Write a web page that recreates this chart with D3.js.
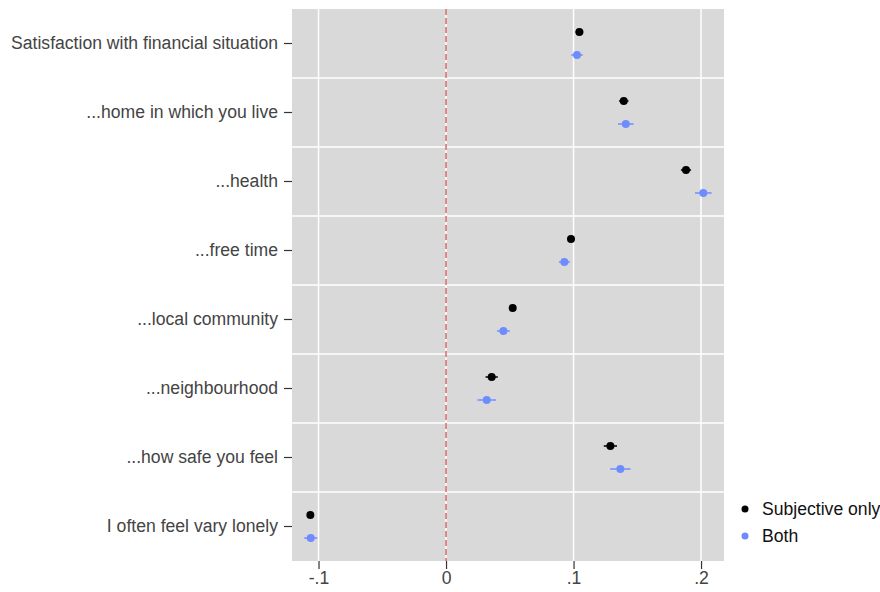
<!DOCTYPE html>
<html>
<head>
<meta charset="utf-8">
<script src="https://cdn.jsdelivr.net/npm/d3@7"></script>
<style>
  html, body { margin: 0; padding: 0; background: #fff; }
  svg { display: block; font-family: "Liberation Sans", Arial, sans-serif; }
</style>
</head>
<body>
<svg id="chart" width="880" height="592"></svg>
<script>
// Outcome labels, top to bottom
const categories = [
  "Satisfaction with financial situation",
  "...home in which you live",
  "...health",
  "...free time",
  "...local community",
  "...neighbourhood",
  "...how safe you feel",
  "I often feel vary lonely"
];

// Coefficient estimates and half-widths of the confidence intervals
const subjectiveEst = [0.1046, 0.1394, 0.1882, 0.0980, 0.0523, 0.0358, 0.1289, -0.1064];
const subjectiveCI  = [0.0030, 0.0037, 0.0040, 0.0025, 0.0025, 0.0048, 0.0052, 0.0025];
const bothEst       = [0.1027, 0.1410, 0.2018, 0.0928, 0.0450, 0.0319, 0.1367, -0.1061];
const bothCI        = [0.0045, 0.0061, 0.0065, 0.0043, 0.0050, 0.0072, 0.0080, 0.0051];

const seriesNames  = ["Subjective only", "Both"];
const seriesColors = ["#000000", "#6f8cff"];

const xTicks = [-0.1, 0, 0.1, 0.2];
const xTickLabels = ["-.1", "0", ".1", ".2"];

const svg = d3.select("#chart");
const panel = { left: 292, right: 724, top: 9, bottom: 561 };
const fontSize = "17.6px";

const x = d3.scaleLinear()
  .domain([-0.1208, 0.218])
  .range([panel.left, panel.right]);

const y = d3.scaleBand()
  .domain(categories)
  .range([panel.top, panel.bottom])
  .padding(0);

// Panel background
svg.append("rect")
  .attr("x", panel.left).attr("y", panel.top)
  .attr("width", panel.right - panel.left)
  .attr("height", panel.bottom - panel.top)
  .attr("fill", "#d9d9d9");

// Vertical grid lines at the x ticks
svg.append("g").selectAll("line")
  .data(xTicks)
  .join("line")
  .attr("x1", d => x(d)).attr("x2", d => x(d))
  .attr("y1", panel.top).attr("y2", panel.bottom)
  .attr("stroke", "#fff").attr("stroke-width", 1.5);

// Horizontal separators between outcomes
svg.append("g").selectAll("line")
  .data(categories.slice(1))
  .join("line")
  .attr("x1", panel.left).attr("x2", panel.right)
  .attr("y1", d => y(d)).attr("y2", d => y(d))
  .attr("stroke", "#fff").attr("stroke-width", 1.5);

// Reference line at zero
svg.append("line")
  .attr("x1", x(0)).attr("x2", x(0))
  .attr("y1", panel.top).attr("y2", panel.bottom)
  .attr("stroke", "#d65a55").attr("stroke-width", 1.4)
  .attr("stroke-dasharray", "6,3");

// Estimates with intervals
const offsets = [-11.5, 11.5];
const series = [
  { est: subjectiveEst, ci: subjectiveCI },
  { est: bothEst, ci: bothCI }
];
series.forEach((s, si) => {
  const rows = categories.map((c, i) => ({ c, v: s.est[i], e: s.ci[i] }));
  const g = svg.append("g");
  g.selectAll("line")
    .data(rows)
    .join("line")
    .attr("x1", d => x(d.v - d.e)).attr("x2", d => x(d.v + d.e))
    .attr("y1", d => y(d.c) + y.bandwidth() / 2 + offsets[si])
    .attr("y2", d => y(d.c) + y.bandwidth() / 2 + offsets[si])
    .attr("stroke", seriesColors[si]).attr("stroke-width", 1.5);
  g.selectAll("circle")
    .data(rows)
    .join("circle")
    .attr("cx", d => x(d.v))
    .attr("cy", d => y(d.c) + y.bandwidth() / 2 + offsets[si])
    .attr("r", 4)
    .attr("fill", seriesColors[si]);
});

// Y axis
const yAxis = svg.append("g")
  .attr("transform", `translate(${panel.left},0)`)
  .call(d3.axisLeft(y).tickSize(8).tickPadding(6));
yAxis.select(".domain").remove();
yAxis.selectAll(".tick line").attr("stroke", "#333").attr("stroke-width", 1.2);
yAxis.selectAll(".tick text")
  .attr("fill", "#444")
  .style("font-size", fontSize)
  .style("font-family", "'Liberation Sans', Arial, sans-serif");

// X axis
const xAxis = svg.append("g")
  .attr("transform", `translate(0,${panel.bottom})`)
  .call(d3.axisBottom(x).tickValues(xTicks)
    .tickFormat((d, i) => xTickLabels[i]).tickSize(8).tickPadding(3));
xAxis.select(".domain").remove();
xAxis.selectAll(".tick line").attr("stroke", "#333").attr("stroke-width", 1.2);
xAxis.selectAll(".tick text")
  .attr("fill", "#444")
  .style("font-size", fontSize)
  .style("font-family", "'Liberation Sans', Arial, sans-serif");

// Legend
const legend = svg.append("g").attr("transform", "translate(745,509)");
seriesNames.forEach((name, i) => {
  const row = legend.append("g").attr("transform", `translate(0,${i * 27})`);
  row.append("circle").attr("r", 3.5).attr("fill", seriesColors[i]);
  row.append("text")
    .attr("x", 17).attr("dy", "0.35em")
    .attr("fill", "#111")
    .style("font-size", fontSize)
    .text(name);
});
</script>
</body>
</html>
